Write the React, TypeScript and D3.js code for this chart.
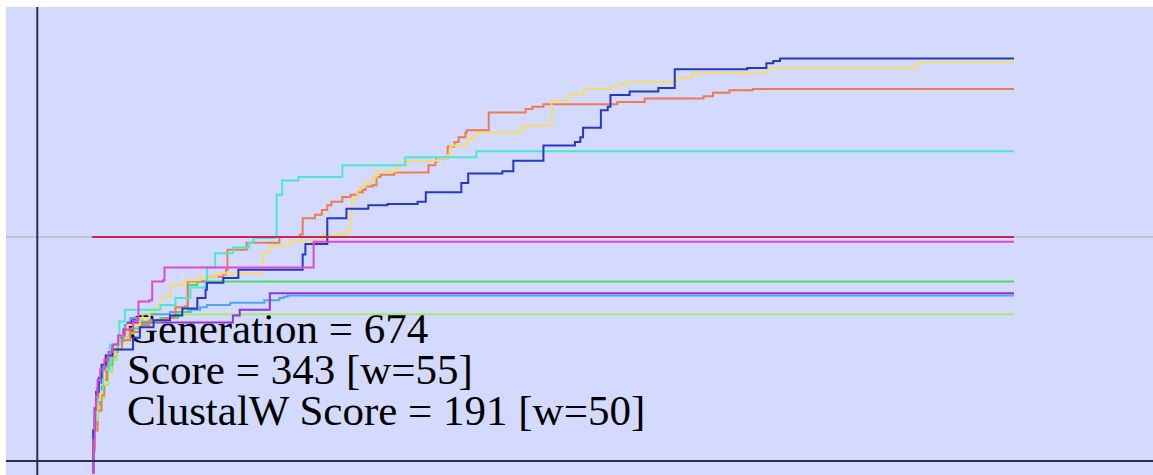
import React, { useRef, useEffect } from 'react';
import * as d3 from 'd3';

const WIDTH = 1153;
const HEIGHT = 475;

// run info shown in the corner
const generation = 674;
const bestScore = 343;
const scoreWindow = 55;
const clustalScore = 191;
const clustalWindow = 50;
const axisGeneration = -40; // vertical axis sits a bit before generation 0
const scoreTop = 387;

// best score per run, as [generation, score] steps
const blueRun = [
  [0, -10], [1, 26], [2, 45], [3, 59], [5, 71], [7, 82], [10, 90], [15, 95], [30, 105], [35, 114],
  [45, 120], [57, 124], [66, 130], [77, 139], [83, 146], [84, 152], [96, 156], [107, 163], [154, 176],
  [156, 185], [172, 207], [186, 215], [202, 218], [216, 219], [238, 221], [244, 229], [270, 237],
  [275, 245], [300, 247], [308, 256], [330, 269], [353, 272], [357, 276], [359, 284], [372, 299],
  [377, 302], [379, 312], [393, 315], [414, 318], [426, 334], [479, 335], [493, 339], [498, 341],
  [503, 343], [674, 343],
];
const yellowRun = [
  [0, -10], [1, 18], [2, 35], [4, 52], [6, 65], [9, 78], [13, 90], [17, 99], [20, 107], [26, 116],
  [35, 122], [42, 127], [48, 133], [51, 140], [57, 150], [67, 154], [79, 157], [91, 160], [124, 165],
  [125, 178], [130, 184], [145, 188], [169, 193], [186, 197], [189, 212], [190, 223], [192, 225],
  [194, 231], [196, 234], [200, 238], [205, 242], [208, 247], [223, 251], [227, 252], [230, 256],
  [253, 258], [260, 261], [262, 269], [267, 269], [274, 274], [278, 277], [281, 280], [313, 282],
  [315, 286], [336, 307], [349, 312], [359, 317], [379, 319], [384, 321], [391, 323], [425, 325],
  [430, 327], [439, 331], [494, 335], [603, 340], [674, 340],
];
const orangeRun = [
  [0, -10], [1, 9], [2, 26], [4, 43], [7, 56], [9, 69], [11, 78], [12, 89], [17, 95], [22, 103],
  [28, 110], [35, 116], [42, 120], [53, 122], [59, 123], [61, 131], [68, 132], [70, 153], [84, 157],
  [96, 159], [98, 163], [99, 180], [113, 186], [137, 191], [152, 193], [154, 207], [163, 210],
  [168, 214], [172, 218], [175, 221], [183, 225], [189, 227], [194, 229], [198, 231], [200, 234],
  [205, 235], [208, 242], [211, 244], [221, 246], [246, 252], [251, 255], [252, 258], [260, 268],
  [265, 272], [268, 276], [273, 280], [274, 282], [290, 297], [317, 300], [322, 302], [330, 304],
  [384, 306], [404, 309], [447, 311], [454, 314], [466, 316], [483, 317], [674, 317],
];
const turquoiseRun = [
  [0, -10], [1, 22], [2, 35], [3, 52], [4, 61], [8, 78], [13, 99], [20, 119], [24, 129], [50, 133],
  [61, 139], [72, 148], [83, 152], [84, 165], [90, 177], [103, 182], [115, 186], [118, 190],
  [134, 191], [135, 227], [139, 239], [151, 242], [183, 252], [229, 259], [281, 264], [674, 264],
];
const crimsonRun = [[0, 191], [674, 191]];
const magentaRun = [
  [0, -10], [1, 18], [2, 43], [3, 56], [4, 69], [6, 78], [9, 86], [12, 93], [15, 99], [19, 107],
  [24, 112], [30, 120], [34, 136], [42, 137], [44, 153], [52, 154], [53, 165], [161, 165],
  [162, 187], [674, 187],
];
const greenRun = [
  [0, -10], [1, 14], [2, 31], [4, 48], [6, 61], [8, 71], [11, 82], [15, 93], [19, 102], [23, 107],
  [28, 113], [35, 119], [50, 122], [63, 127], [70, 150], [77, 153], [674, 153],
];
const purpleRun = [
  [0, -10], [1, 26], [2, 43], [3, 55], [4, 62], [7, 73], [9, 82], [12, 90], [15, 99], [19, 105],
  [23, 112], [26, 118], [103, 124], [108, 129], [130, 143], [674, 143],
];
const lightBlueRun = [
  [0, -10], [1, 18], [2, 35], [3, 50], [5, 65], [7, 76], [10, 84], [13, 93], [17, 100], [20, 107],
  [24, 116], [28, 122], [42, 125], [57, 127], [72, 129], [79, 131], [84, 133], [101, 135],
  [126, 137], [137, 139], [140, 140], [143, 141], [674, 141],
];
const lightGreenRun = [
  [0, -10], [1, 9], [2, 26], [4, 42], [6, 54], [9, 65], [12, 76], [15, 86], [18, 95], [22, 103],
  [26, 109], [31, 115], [35, 120], [37, 125], [674, 125],
];

// drawing order: later runs sit on top
const runs = [
  { data: lightGreenRun, color: '#a8e872' },
  { data: lightBlueRun, color: '#4ca8f2' },
  { data: purpleRun, color: '#9432e0' },
  { data: greenRun, color: '#4cdc6c' },
  { data: orangeRun, color: '#ee7a50' },
  { data: yellowRun, color: '#f6dc6c' },
  { data: turquoiseRun, color: '#4ae6d2' },
  { data: blueRun, color: '#2638c0' },
  { data: magentaRun, color: '#e046d8' },
  { data: crimsonRun, color: '#cc2256' },
];

const infoLines = [
  `Generation = ${generation}`,
  `Score = ${bestScore} [w=${scoreWindow}]`,
  `ClustalW Score = ${clustalScore} [w=${clustalWindow}]`,
];

const App = () => {
  const ref = useRef<SVGSVGElement>(null);

  useEffect(() => {
    const svg = d3.select(ref.current);
    svg.selectAll('*').remove();

    const left = 6;
    const top = 7;

    const x = d3.scaleLinear().domain([0, generation]).range([92, 1014]);
    const y = d3.scaleLinear().domain([0, scoreTop]).range([461, top]);

    // panel
    svg.append('rect')
      .attr('x', left)
      .attr('y', top)
      .attr('width', WIDTH - left)
      .attr('height', HEIGHT - top)
      .attr('fill', '#d3dafd');

    // ClustalW reference level
    svg.append('line')
      .attr('x1', left)
      .attr('x2', WIDTH)
      .attr('y1', y(clustalScore))
      .attr('y2', y(clustalScore))
      .attr('stroke', '#b6b8c4')
      .attr('stroke-width', 1.5);

    // info text, under the runs
    svg.append('g')
      .selectAll('text')
      .data(infoLines)
      .enter()
      .append('text')
      .attr('x', 127)
      .attr('y', (d, i) => 343 + i * 41)
      .attr('font-family', '"Liberation Serif", "DejaVu Serif", serif')
      .attr('font-size', '43px')
      .attr('fill', '#000')
      .text(d => d);

    const line = d3.line<number[]>()
      .x(d => x(d[0]))
      .y(d => y(d[1]))
      .curve(d3.curveStepAfter);

    runs.forEach(run => {
      svg.append('path')
        .datum(run.data)
        .attr('fill', 'none')
        .attr('stroke', run.color)
        .attr('stroke-width', 2)
        .attr('d', line);
    });

    // axes
    svg.append('line')
      .attr('x1', x(axisGeneration))
      .attr('x2', x(axisGeneration))
      .attr('y1', top)
      .attr('y2', HEIGHT)
      .attr('stroke', '#2e2e46')
      .attr('stroke-width', 2);

    svg.append('line')
      .attr('x1', left)
      .attr('x2', WIDTH)
      .attr('y1', y(0))
      .attr('y2', y(0))
      .attr('stroke', '#2e2e46')
      .attr('stroke-width', 2);
  }, []);

  return (
    <div style={{ position: 'absolute', left: 0, top: 0 }}>
      <svg ref={ref} width={WIDTH} height={HEIGHT} style={{ display: 'block', background: '#fff' }} />
    </div>
  );
};

export default App;
